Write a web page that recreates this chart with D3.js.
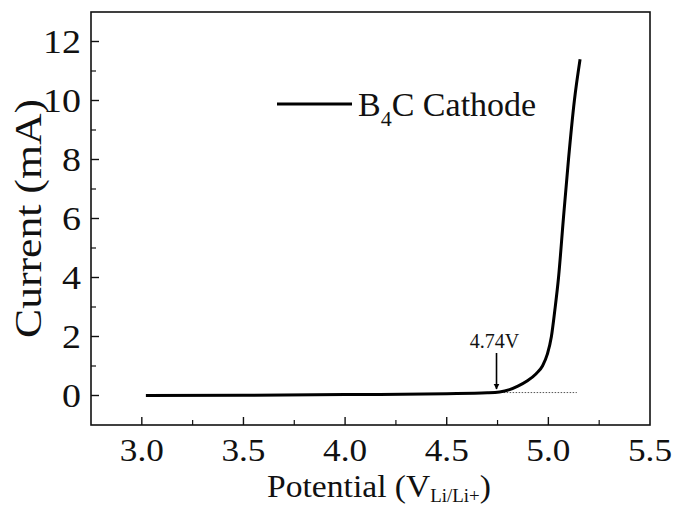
<!DOCTYPE html>
<html>
<head>
<meta charset="utf-8">
<script src="https://cdn.jsdelivr.net/npm/d3@7"></script>
<style>
  body { margin: 0; background: #fff; }
  text { font-family: "Liberation Serif", "Times New Roman", serif; fill: #111; }
</style>
</head>
<body>
<svg id="chart" width="673" height="506"></svg>
<script>
// potential (V vs Li/Li+) and current (mA)
const potential = [3.02, 3.5, 4.0, 4.5, 4.7, 4.76, 4.809, 4.85, 4.897, 4.94, 4.971, 4.995, 5.015, 5.032, 5.05, 5.074, 5.099, 5.128, 5.156];
const current   = [0.0, 0.01, 0.03, 0.06, 0.09, 0.12, 0.2, 0.32, 0.5, 0.74, 1.0, 1.4, 2.0, 2.9, 4.0, 6.0, 8.0, 10.0, 11.4];

// dotted baseline extension and onset marker
const baseX = [4.78, 5.14];
const baseY = 0.1;
const onset = 4.74;
const onsetLabel = "4.74V";

const xTicks = [3.0, 3.5, 4.0, 4.5, 5.0, 5.5];
const yTicks = [0, 2, 4, 6, 8, 10, 12];

const data = potential.map((p, i) => ({x: p, y: current[i]}));

const svg = d3.select("#chart");
const mLeft = 91, mRight = 650, mTop = 12, mBottom = 425;

var x = d3.scaleLinear().domain([2.75, 5.5]).range([mLeft, mRight]);
var y = d3.scaleLinear().domain([-1, 13]).range([mBottom, mTop]);

// frame
svg.append("rect")
    .attr("x", mLeft).attr("y", mTop)
    .attr("width", mRight - mLeft).attr("height", mBottom - mTop)
    .attr("fill", "none").attr("stroke", "#111").attr("stroke-width", 1.6);

// ticks (inward), major + minor
var xMinor = d3.range(3.25, 5.5, 0.5);
var yMinor = d3.range(1, 13, 2);

svg.append("g").selectAll("line").data(xTicks.filter(t => t < 5.5)).enter().append("line")
    .attr("x1", d => x(d)).attr("x2", d => x(d))
    .attr("y1", mBottom).attr("y2", mBottom - 8)
    .attr("stroke", "#111").attr("stroke-width", 1.4);
svg.append("g").selectAll("line").data(xMinor).enter().append("line")
    .attr("x1", d => x(d)).attr("x2", d => x(d))
    .attr("y1", mBottom).attr("y2", mBottom - 5)
    .attr("stroke", "#111").attr("stroke-width", 1.2);
svg.append("g").selectAll("line").data(yTicks).enter().append("line")
    .attr("x1", mLeft).attr("x2", mLeft + 8)
    .attr("y1", d => y(d)).attr("y2", d => y(d))
    .attr("stroke", "#111").attr("stroke-width", 1.4);
svg.append("g").selectAll("line").data(yMinor).enter().append("line")
    .attr("x1", mLeft).attr("x2", mLeft + 5)
    .attr("y1", d => y(d)).attr("y2", d => y(d))
    .attr("stroke", "#111").attr("stroke-width", 1.2);

// tick labels (the source font runs a little wide, so stretch horizontally)
svg.append("g").selectAll("text").data(xTicks).enter().append("text")
    .attr("transform", d => "translate(" + x(d) + ",461) scale(1.1,1)")
    .attr("text-anchor", "middle")
    .style("font-size", "32px")
    .text(d => d.toFixed(1));
svg.append("g").selectAll("text").data(yTicks).enter().append("text")
    .attr("transform", d => "translate(" + (mLeft - 10) + "," + y(d) + ") scale(1.15,1)")
    .attr("dy", "0.35em")
    .attr("text-anchor", "end")
    .style("font-size", "33px")
    .text(d => d);

// axis titles
var xt = svg.append("text")
    .attr("transform", "translate(379,497) scale(1.05,1)")
    .attr("text-anchor", "middle")
    .style("font-size", "32px");
xt.append("tspan").text("Potential (V");
xt.append("tspan").attr("dy", 5).style("font-size", "18px").text("Li/Li+");
xt.append("tspan").attr("dy", -5).text(")");

svg.append("text")
    .attr("transform", "translate(41," + ((mTop + mBottom) / 2) + ") rotate(-90) scale(1.15,1)")
    .attr("text-anchor", "middle")
    .style("font-size", "38px")
    .text("Current (mA)");

// dotted baseline
svg.append("line")
    .attr("x1", x(baseX[0])).attr("x2", x(baseX[1]))
    .attr("y1", y(baseY)).attr("y2", y(baseY))
    .attr("stroke", "#555").attr("stroke-width", 1)
    .attr("stroke-dasharray", "1.5,1.5");

// curve
var line = d3.line().x(d => x(d.x)).y(d => y(d.y)).curve(d3.curveMonotoneX);
svg.append("path")
    .datum(data)
    .attr("d", line)
    .attr("fill", "none")
    .attr("stroke", "#000")
    .attr("stroke-width", 3);

// onset arrow
svg.append("defs").append("marker")
    .attr("id", "arrow").attr("viewBox", "0 0 10 10")
    .attr("refX", 9).attr("refY", 5)
    .attr("markerWidth", 6).attr("markerHeight", 8)
    .attr("markerUnits", "userSpaceOnUse")
    .attr("orient", "auto")
  .append("path").attr("d", "M0,0 L10,5 L0,10 Z").attr("fill", "#000");
svg.append("line")
    .attr("x1", x(onset) + 1).attr("x2", x(onset) + 1)
    .attr("y1", 353).attr("y2", 389)
    .attr("stroke", "#000").attr("stroke-width", 1.6)
    .attr("marker-end", "url(#arrow)");
svg.append("text")
    .attr("x", x(onset) - 1).attr("y", 348)
    .attr("text-anchor", "middle")
    .style("font-size", "20px")
    .text(onsetLabel);

// legend
svg.append("line")
    .attr("x1", 277).attr("x2", 352)
    .attr("y1", 104).attr("y2", 104)
    .attr("stroke", "#000").attr("stroke-width", 3);
var lt = svg.append("text")
    .attr("x", 358).attr("y", 116)
    .style("font-size", "34px");
lt.append("tspan").text("B");
lt.append("tspan").attr("dy", 10).style("font-size", "22px").text("4");
lt.append("tspan").attr("dy", -10).text("C Cathode");
</script>
</body>
</html>
